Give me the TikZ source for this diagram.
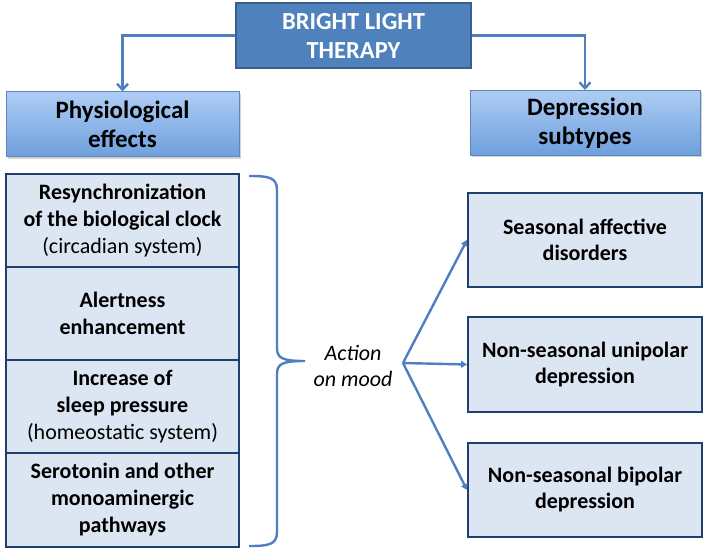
\documentclass[tikz,border=0pt]{standalone}
\usepackage{fontspec}
\setmainfont{Carlito}
\usetikzlibrary{arrows.meta,shadows}
\definecolor{arrowblue}{HTML}{4F7FBE}
\definecolor{topfill}{HTML}{4F81BD}
\definecolor{topedge}{HTML}{3A5F8E}
\definecolor{lightfill}{HTML}{DCE6F2}
\definecolor{darkedge}{HTML}{203F6E}
\definecolor{gradtop}{HTML}{AECDF5}
\definecolor{gradbot}{HTML}{6E9FDC}
\tikzset{
  topbox/.style={draw=topedge, line width=2pt, fill=topfill, text=white,
    font=\fontsize{24.5}{29}\selectfont\bfseries, align=center,
    minimum width=235pt, minimum height=65pt, inner sep=0pt},
  headbox/.style={draw=gradbot!85!black, line width=1pt, top color=gradtop, bottom color=gradbot,
    font=\fontsize{25}{29}\selectfont\bfseries, align=center,
    minimum height=65pt, inner sep=0pt,
    drop shadow={shadow xshift=1.5pt, shadow yshift=-2pt, opacity=0.35}},
  effbox/.style={draw=darkedge, line width=2pt, fill=lightfill,
    font=\fontsize{22}{27}\selectfont\bfseries, align=center,
    minimum width=233pt, inner sep=0pt},
  subbox/.style={draw=darkedge, line width=2pt, fill=lightfill,
    font=\fontsize{22}{26}\selectfont\bfseries, align=center,
    minimum width=234pt, minimum height=94pt, inner sep=0pt},
  arr/.style={draw=arrowblue, line width=2.4pt, -{Straight Barb[length=6pt,width=11pt]}},
  arrs/.style={draw=arrowblue, line width=2.4pt, -{Triangle[length=6pt,width=7pt]}},
}
\begin{document}
\begin{tikzpicture}[x=1pt,y=-1pt]
\useasboundingbox (0,0) rectangle (709,556);
\node[topbox] (top) at (353.5,35.5) {BRIGHT LIGHT\\THERAPY};
\node[headbox, minimum width=233pt] (phys) at (122.5,124.5) {Physiological\\effects};
\node[headbox, minimum width=230pt] (dep) at (585,123) {Depression\\subtypes};
\draw[arr] (top.west) -| (phys.north);
\draw[arr] (top.east) -| (dep.north);
% effects stack
\node[effbox, minimum height=93pt] (e1) at (122.5,220.5) {Resynchronization\\of the biological clock\\{\mdseries (circadian system)}};
\node[effbox, minimum height=93pt] (e2) at (122.5,313.5) {Alertness\\enhancement};
\node[effbox, minimum height=93pt] (e3) at (122.5,406.5) {Increase of\\sleep pressure\\{\mdseries (homeostatic system)}};
\node[effbox, minimum height=94pt] (e4) at (122.5,500) {Serotonin and other\\monoaminergic\\pathways};
% brace
\draw[draw=arrowblue, line width=2.4pt]
  (249,176) .. controls (268,176) and (277,177) .. (277,190)
  -- (277,348) .. controls (277,358) and (282,361) .. (305,361)
  (277,374) .. controls (277,364) and (282,361) .. (305,361)
  (277,374) -- (277,532) .. controls (277,545) and (268,546) .. (249,546);
\node[font=\fontsize{22}{26}\selectfont\itshape, align=center] (act) at (353,366) {Action\\on mood};
\coordinate (hub) at (403,363);
% subtypes
\node[subbox] (s1) at (585,240) {Seasonal affective\\disorders};
\node[subbox, minimum height=95pt] (s2) at (585,364.5) {Non-seasonal unipolar\\depression};
\node[subbox] (s3) at (585,490) {Non-seasonal bipolar\\depression};
\draw[arrs] (hub) -- (s1.west);
\draw[arrs] (hub) -- (s2.west);
\draw[arrs] (hub) -- (s3.west);
\end{tikzpicture}
\end{document}
